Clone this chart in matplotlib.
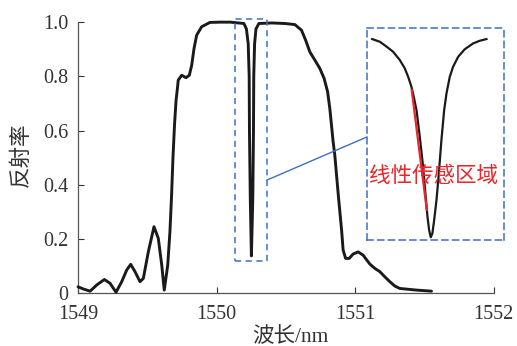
import matplotlib.pyplot as plt
from matplotlib.patches import Rectangle

# 反射谱（主图）
wl = [1549.000, 1549.038, 1549.087, 1549.135, 1549.190, 1549.231, 1549.274,
      1549.315, 1549.351, 1549.380, 1549.411, 1549.447, 1549.471, 1549.507,
      1549.548, 1549.579, 1549.604, 1549.622, 1549.647, 1549.663, 1549.674,
      1549.685, 1549.696, 1549.707, 1549.718, 1549.723, 1549.748, 1549.779,
      1549.803, 1549.820, 1549.837, 1549.856, 1549.892, 1549.952, 1550.024,
      1550.100, 1550.197, 1550.215, 1550.228, 1550.235, 1550.237, 1550.243,
      1550.251, 1550.261, 1550.266, 1550.268, 1550.274, 1550.284, 1550.305,
      1550.400, 1550.493, 1550.565, 1550.613, 1550.642, 1550.673, 1550.709,
      1550.745, 1550.776, 1550.801, 1550.817, 1550.829, 1550.841, 1550.853,
      1550.877, 1550.902, 1550.913, 1550.931, 1550.957, 1550.985, 1551.021,
      1551.057, 1551.106, 1551.142, 1551.178, 1551.214, 1551.250, 1551.286,
      1551.322, 1551.442, 1551.551]
refl = [0.023, 0.015, 0.007, 0.030, 0.050, 0.036, 0.003,
        0.042, 0.085, 0.106, 0.079, 0.042, 0.054, 0.152,
        0.245, 0.202, 0.103, 0.011, 0.103, 0.226, 0.350,
        0.500, 0.620, 0.710, 0.760, 0.786, 0.804, 0.795,
        0.804, 0.841, 0.903, 0.952, 0.983, 0.999, 1.000,
        1.000, 0.995, 0.975, 0.920, 0.800, 0.600, 0.350,
        0.137, 0.350, 0.600, 0.800, 0.920, 0.975, 0.995,
        0.997, 0.995, 0.991, 0.970, 0.934, 0.890, 0.860,
        0.829, 0.792, 0.743, 0.681, 0.620, 0.558, 0.509,
        0.368, 0.232, 0.159, 0.128, 0.128, 0.144, 0.152,
        0.140, 0.107, 0.091, 0.079, 0.060, 0.042, 0.026,
        0.017, 0.011, 0.007]

# 放大的谐振凹陷（小图）
dip_wl = [1550.2039, 1550.2095, 1550.2144, 1550.2192, 1550.2241, 1550.2277,
          1550.2302, 1550.2326, 1550.2343, 1550.2363, 1550.2387, 1550.2411,
          1550.2428, 1550.2443, 1550.2455, 1550.2467, 1550.2479, 1550.2492,
          1550.2509, 1550.2526, 1550.2545, 1550.2565, 1550.2582, 1550.2606,
          1550.2630, 1550.2667, 1550.2715, 1550.2776, 1550.2825, 1550.2874]
dip_r = [0.950, 0.939, 0.919, 0.898, 0.864, 0.830,
         0.795, 0.754, 0.713, 0.658, 0.549, 0.426,
         0.316, 0.221, 0.166, 0.136, 0.152, 0.207,
         0.289, 0.398, 0.535, 0.658, 0.727, 0.795,
         0.836, 0.877, 0.908, 0.932, 0.943, 0.950]
lin_wl = [1550.2328, 1550.2438]
lin_r = [0.741, 0.249]

plt.rcParams['font.family'] = ['Liberation Serif', 'Noto Sans CJK SC']

fig = plt.figure(figsize=(5.17, 3.46), dpi=100)
ax = fig.add_axes([0.151, 0.153, 0.804, 0.783])

ax.plot(wl, refl, color='#1a1a1a', lw=2.1, clip_on=False, zorder=3,
        solid_joinstyle='round', solid_capstyle='round')
ax.set_xlim(1549, 1552)
ax.set_ylim(0, 1.0)
ax.set_xticks([1549, 1550, 1551, 1552])
ax.set_yticks([0, 0.2, 0.4, 0.6, 0.8, 1.0])
ax.set_yticklabels(['0', '0.2', '0.4', '0.6', '0.8', '1.0'])
ax.tick_params(direction='in', length=4.5, width=0.8, labelsize=14.5,
               colors='#333333')
ax.tick_params(axis='x', pad=8.5)
ax.tick_params(axis='y', pad=7)
for s in ['top', 'right']:
    ax.spines[s].set_visible(False)
for s in ['left', 'bottom']:
    ax.spines[s].set_color('#555555')
    ax.spines[s].set_linewidth(0.9)

ax.set_xlabel('波长/nm', fontsize=15.5, color='#333333', va='center')
ax.xaxis.set_label_coords(0.51, -0.162)
ax.set_ylabel('反射率', fontsize=15.5, color='#333333', va='center')
ax.yaxis.set_label_coords(-0.135, 0.509)

blue = '#3d6fbf'
box = Rectangle((1550.132, 0.118), 0.231, 0.893, fill=False, ec=blue,
                lw=1.1, ls=(0, (4, 3)), clip_on=False, zorder=4)
ax.add_patch(box)
ax.plot([1550.363, 1551.084], [0.417, 0.576], color=blue, lw=1.0,
        clip_on=False, zorder=4)

ins = ax.inset_axes([1551.084, 0.196, 0.988, 0.782], transform=ax.transData)
ins.plot(dip_wl, dip_r, color='#1a1a1a', lw=1.6, solid_joinstyle='round')
ins.plot(lin_wl, lin_r, color='#e8262c', lw=1.6)
ins.set_xlim(1550.20, 1550.30)
ins.set_ylim(0.125, 0.995)
ins.set_xticks([])
ins.set_yticks([])
ins.patch.set_alpha(0)
for s in ins.spines.values():
    s.set_color(blue)
    s.set_linewidth(1.1)
    s.set_linestyle((0, (4, 3)))
ins.text(0.49, 0.30, '线性传感区域', transform=ins.transAxes, fontsize=15.5,
         color='#e8262c', ha='center', va='center',
         family=['Noto Sans CJK SC', 'DejaVu Sans'])

fig.savefig('out.png', dpi=100, facecolor='white')
